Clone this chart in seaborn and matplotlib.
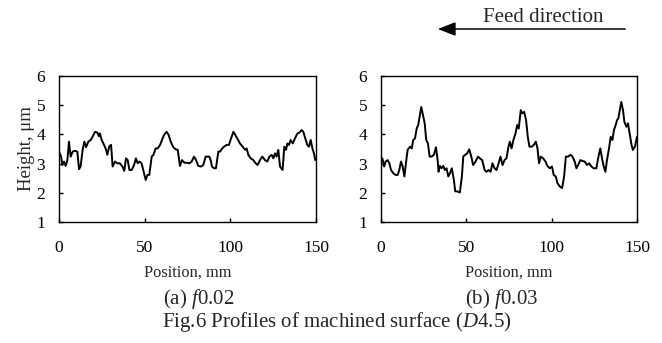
import matplotlib
matplotlib.use("Agg")
import matplotlib.pyplot as plt
from matplotlib.patches import FancyArrowPatch
import seaborn as sns
import pandas as pd

# ---- data ----
pos_a = [0, 1.2, 2.0, 2.9, 3.9, 4.9, 5.8, 6.8, 8.0, 9.3, 10.7, 11.7, 12.6, 13.8, 14.8,
         15.8, 17.1, 18.5, 19.6, 21.0, 22.4, 23.3, 23.9, 24.9, 26.3, 27.4, 28.2, 29.4,
         30.4, 31.3, 32.7, 34.0, 35.6, 37.2, 38.1, 39.1, 40.1, 41.1, 42.4, 43.8, 44.9,
         45.9, 46.9, 48.2, 49.6, 50.6, 51.6, 52.7, 54.1, 55.1, 56.4, 57.6, 59.0, 60.1,
         61.3, 62.8, 64.0, 65.2, 66.7, 68.1, 69.3, 70.6, 71.8, 73.2, 74.5, 76.1, 77.4,
         78.8, 80.0, 81.3, 82.9, 84.2, 85.6, 86.8, 87.7, 88.5, 89.3, 90.5, 91.6, 93.0,
         94.0, 95.3, 96.3, 97.9, 99.2, 100.4, 101.8, 102.9, 104.1, 105.6, 107.2, 108.6,
         109.5, 110.5, 111.9, 113.4, 114.8, 115.9, 117.3, 118.7, 120.2, 121.6, 122.8,
         124.1, 125.1, 126.1, 127.0, 128.0, 129.0, 130.5, 131.5, 132.5, 133.3, 134.2,
         135.2, 136.4, 137.7, 139.1, 140.3, 141.6, 142.6, 143.8, 144.9, 145.9, 146.9,
         147.9, 148.8, 149.6]
height_a = [3.41, 3.24, 2.95, 3.07, 2.92, 3.12, 3.75, 3.24, 3.41, 3.44, 3.41, 2.81, 2.90,
            3.47, 3.75, 3.56, 3.75, 3.81, 3.92, 4.09, 4.06, 3.94, 4.03, 3.81, 3.64, 3.49,
            3.30, 3.60, 3.64, 2.90, 3.07, 3.01, 3.01, 2.88, 2.75, 3.18, 3.12, 2.78, 2.78,
            2.95, 3.18, 3.01, 3.07, 3.01, 2.67, 2.44, 2.61, 2.61, 3.24, 3.30, 3.52, 3.52,
            3.64, 3.81, 3.98, 4.09, 3.98, 3.75, 3.56, 3.49, 3.47, 2.92, 3.12, 3.03, 3.03,
            3.01, 3.07, 3.24, 3.12, 2.92, 2.90, 2.95, 3.24, 3.24, 3.24, 3.12, 2.90, 2.84,
            2.84, 3.41, 3.41, 3.52, 3.58, 3.64, 3.64, 3.86, 4.09, 3.98, 3.86, 3.69, 3.58,
            3.47, 3.52, 3.30, 3.18, 3.12, 3.01, 2.95, 3.12, 3.24, 3.12, 3.07, 3.24, 3.30,
            3.18, 3.35, 3.24, 3.47, 2.90, 2.78, 3.58, 3.47, 3.69, 3.64, 3.81, 3.69, 3.86,
            4.03, 4.06, 4.15, 4.09, 3.86, 3.64, 3.58, 3.81, 3.52, 3.35, 3.12]

pos_b = [0, 0.8, 1.8, 2.7, 3.9, 4.9, 5.9, 7.2, 8.6, 9.8, 10.7, 11.7, 12.7, 13.7, 14.6,
         15.6, 17.0, 18.0, 18.9, 19.9, 20.9, 21.8, 22.8, 23.6, 24.6, 25.6, 26.5, 27.5,
         28.5, 29.6, 31.0, 32.2, 33.2, 33.7, 34.5, 35.5, 36.5, 37.4, 38.4, 39.4, 40.4,
         41.5, 42.7, 43.5, 44.7, 46.2, 47.4, 48.2, 49.3, 50.5, 51.7, 52.9, 54.0, 55.4,
         56.8, 57.9, 59.3, 60.7, 61.8, 63.0, 64.2, 65.3, 66.5, 67.7, 68.9, 70.0, 71.2,
         72.4, 73.5, 74.7, 75.5, 76.5, 77.6, 78.8, 79.8, 80.7, 81.9, 82.9, 83.9, 85.0,
         86.0, 87.0, 88.4, 89.5, 90.7, 91.7, 92.6, 93.6, 95.0, 96.4, 97.5, 98.9, 100.2,
         101.2, 102.4, 103.4, 104.7, 106.1, 107.3, 108.3, 109.6, 111.0, 112.2, 113.5,
         114.5, 115.5, 116.8, 118.0, 119.4, 120.7, 121.9, 123.3, 124.6, 126.2, 127.2,
         128.5, 129.7, 130.5, 131.5, 132.4, 133.6, 134.6, 135.6, 136.5, 137.5, 138.3,
         139.1, 139.9, 140.8, 141.8, 142.6, 143.8, 144.7, 145.7, 146.8, 147.6, 148.8, 150.0]
height_b = [3.12, 3.18, 2.90, 3.07, 3.12, 3.01, 2.78, 2.67, 2.61, 2.61, 2.78, 3.07, 2.90,
            2.56, 3.01, 3.47, 3.58, 3.52, 3.81, 3.86, 4.20, 4.32, 4.66, 4.94, 4.66, 4.38,
            3.81, 3.69, 3.24, 3.24, 3.30, 3.56, 3.12, 2.72, 2.92, 2.84, 2.92, 2.78, 2.84,
            2.56, 2.67, 2.84, 2.44, 2.05, 2.05, 2.01, 2.56, 3.24, 3.30, 3.35, 3.49, 3.24,
            2.95, 3.07, 3.24, 3.18, 3.12, 2.78, 2.72, 2.78, 2.72, 3.01, 2.84, 2.78, 3.01,
            3.24, 2.95, 3.12, 3.18, 3.58, 3.75, 3.52, 3.81, 4.03, 4.32, 4.20, 4.83, 4.72,
            4.77, 4.49, 3.92, 3.58, 3.58, 3.64, 3.75, 3.52, 3.01, 3.24, 3.18, 3.07, 2.92,
            2.84, 2.90, 2.61, 2.56, 2.33, 2.22, 2.16, 2.56, 3.24, 3.24, 3.30, 3.24, 3.07,
            2.84, 2.95, 3.12, 3.09, 3.07, 2.95, 3.01, 2.90, 2.84, 2.84, 3.18, 3.52, 3.12,
            2.90, 2.72, 3.12, 3.52, 3.92, 3.81, 4.15, 4.32, 4.49, 4.55, 4.83, 5.11, 4.83,
            4.43, 4.26, 4.38, 4.03, 3.64, 3.47, 3.58, 3.92]

x_ticks = [0, 50, 100, 150]
y_ticks = [1, 2, 3, 4, 5, 6]
x_label = "Position, mm"
y_label = "Height, μm"
sub_captions = ["(a) $\\mathit{f}$0.02", "(b) $\\mathit{f}$0.03"]
fig_caption = "Fig.6 Profiles of machined surface ($\\mathit{D}$4.5)"
arrow_text = "Feed direction"

sns.set_theme(style="ticks")
plt.rcParams["font.family"] = ["Liberation Serif", "DejaVu Serif"]
plt.rcParams["mathtext.fontset"] = "custom"
plt.rcParams["mathtext.rm"] = "Liberation Serif"
plt.rcParams["mathtext.it"] = "Liberation Serif:italic"

W, H = 662, 343
fig = plt.figure(figsize=(W / 100, H / 100), dpi=100)
fig.patch.set_facecolor("white")

def px_axes(l, t, r, b):
    return [l / W, 1 - b / H, (r - l) / W, (b - t) / H]

ax_a = fig.add_axes(px_axes(59, 76, 316, 222))
ax_b = fig.add_axes(px_axes(381, 76, 637, 222))

df_a = pd.DataFrame({"pos": pos_a, "h": height_a})
df_b = pd.DataFrame({"pos": pos_b, "h": height_b})
sns.lineplot(data=df_a, x="pos", y="h", ax=ax_a, color="black", lw=1.4, sort=False)
sns.lineplot(data=df_b, x="pos", y="h", ax=ax_b, color="black", lw=1.4, sort=False)

for ax in (ax_a, ax_b):
    ax.set_xlim(0, 150)
    ax.set_ylim(1, 6)
    ax.set_xticks(x_ticks)
    ax.set_yticks(y_ticks)
    ax.tick_params(direction="in", length=3, width=1, colors="black",
                   labelsize=12.5)
    ax.tick_params(axis="y", pad=10)
    ax.tick_params(axis="x", pad=13)
    for s in ax.spines.values():
        s.set_visible(True)
        s.set_color("black")
        s.set_linewidth(1.0)
    ax.set_xlabel(x_label, fontsize=11.8, labelpad=6)
    ax.set_ylabel("")
ax_a.set_ylabel(y_label, fontsize=13.5, labelpad=1)

fig.text(199 / W, 1 - 299 / H, sub_captions[0], ha="center", va="center", fontsize=15)
fig.text(502 / W, 1 - 299 / H, sub_captions[1], ha="center", va="center", fontsize=15)
fig.text(337 / W, 1 - 322 / H, fig_caption, ha="center", va="center", fontsize=15)

fig.text(543 / W, 1 - 18 / H, arrow_text, ha="center", va="center", fontsize=15)
arr = FancyArrowPatch((628 / W, 1 - 29 / H), (435 / W, 1 - 29 / H),
                      transform=fig.transFigure,
                      arrowstyle="-|>,head_length=0.9,head_width=0.35",
                      mutation_scale=12, color="black", lw=1.1)
fig.patches.append(arr)

fig.savefig("out.png", dpi=100, facecolor="white")
